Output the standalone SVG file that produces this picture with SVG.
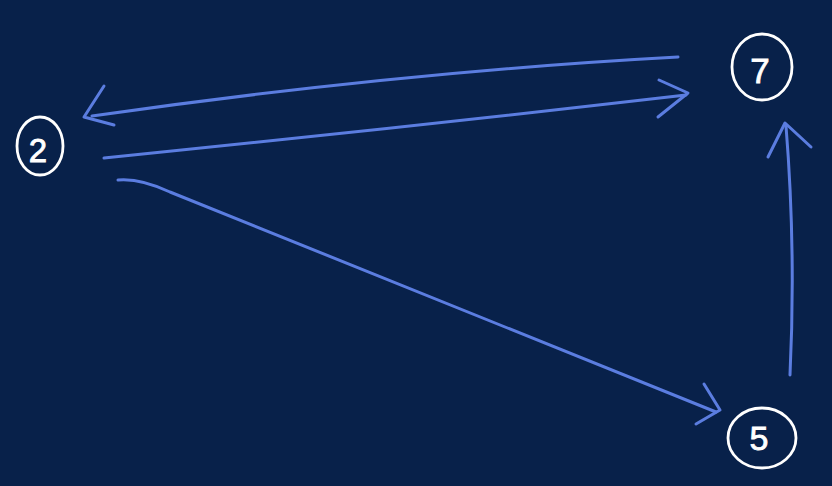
<svg xmlns="http://www.w3.org/2000/svg" width="832" height="486" viewBox="0 0 832 486">
<style>
.bg{fill:#08214a}
.node ellipse{fill:none;stroke:#ffffff;stroke-width:2.8}
.node text{fill:#ffffff;stroke:#ffffff;stroke-width:0.8;font-family:"Liberation Sans","DejaVu Sans",sans-serif;font-size:33px;text-anchor:middle}
.edge{fill:none;stroke:#5b7de0;stroke-width:3;stroke-linecap:round;stroke-linejoin:round}
</style>
<rect class="bg" x="0" y="0" width="832" height="486"/>
<g id="connectors">
  <path class="edge" d="M678 57 Q400 72 92 116"/>
  <path class="edge" d="M104 86 L84 117 L114 125"/>
  <path class="edge" d="M104 158 Q400 128 686 95"/>
  <path class="edge" d="M659 80 L688 93 L658 117"/>
  <path class="edge" d="M118 180 Q140 178 170 192 L716 412"/>
  <path class="edge" d="M704 384 L720 410 L696 424"/>
  <path class="edge" d="M790 375 Q796 250 786 126"/>
  <path class="edge" d="M768 157 L785 123 L811 147"/>
</g>
<g id="node-2" class="node">
  <ellipse cx="40" cy="146" rx="23" ry="29"/>
  <text x="38" y="162">2</text>
</g>
<g id="node-7" class="node">
  <ellipse cx="762" cy="67" rx="30" ry="33"/>
  <text x="760" y="83" style="font-size:35px">7</text>
</g>
<g id="node-5" class="node">
  <ellipse cx="762" cy="438" rx="34" ry="30"/>
  <text x="759" y="450" style="font-size:34px">5</text>
</g>
</svg>
